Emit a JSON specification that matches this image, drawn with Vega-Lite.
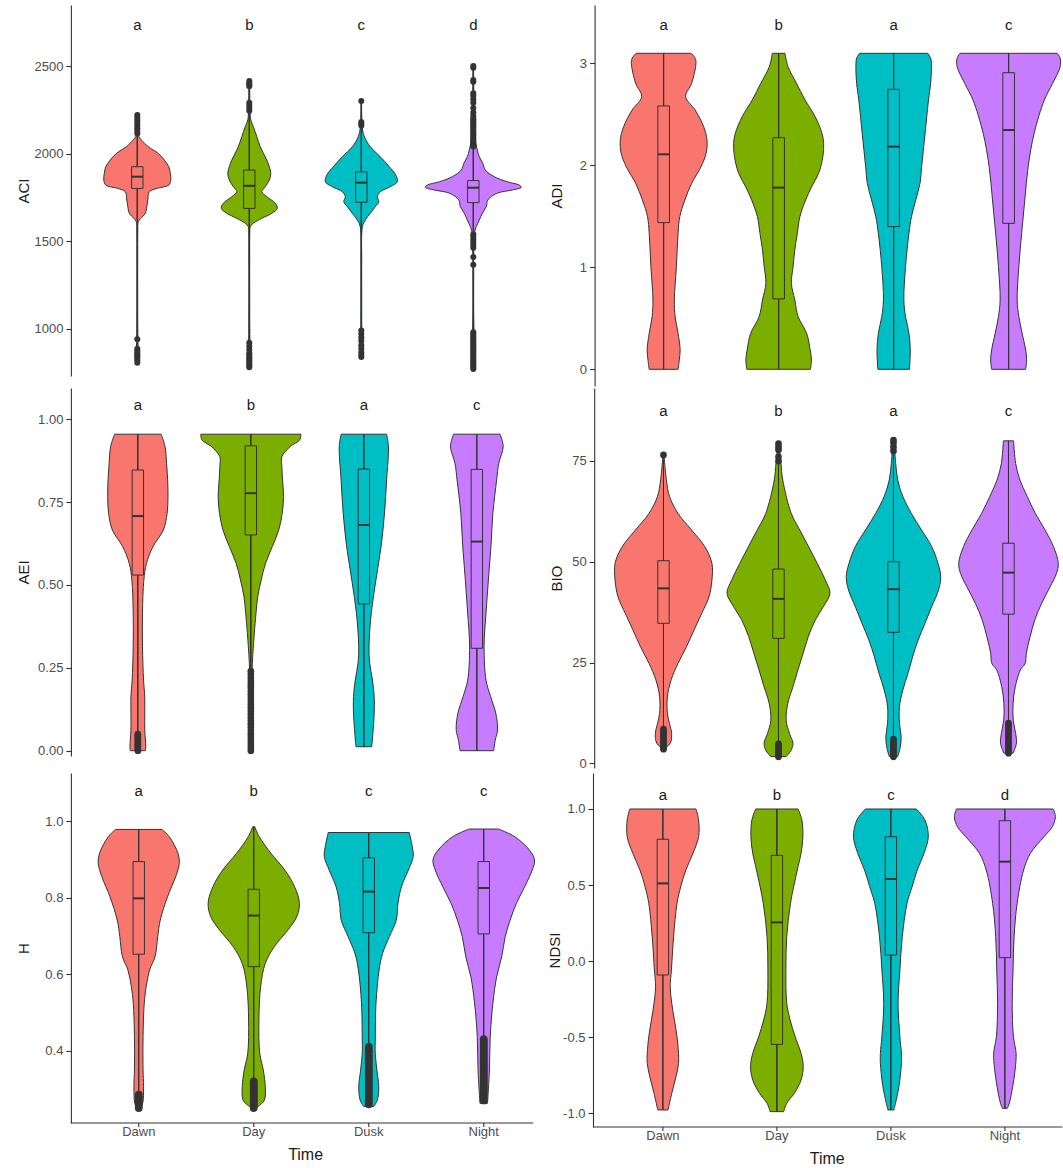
{
"$schema":"https://vega.github.io/schema/vega-lite/v6.json",
"padding":{"left":16.6,"top":5,"right":0,"bottom":0},
"autosize":{"type":"pad"},
"background":"white",
"datasets":{"d":[
{"p":"ACI","t":"Dawn","k":"v","y":804,"d":0.6},{"p":"ACI","t":"Dawn","k":"v","y":850,"d":1.2},{"p":"ACI","t":"Dawn","k":"v","y":900,"d":1.5},{"p":"ACI","t":"Dawn","k":"v","y":1000,"d":1},{"p":"ACI","t":"Dawn","k":"v","y":1200,"d":0.8},{"p":"ACI","t":"Dawn","k":"v","y":1400,"d":0.8},{"p":"ACI","t":"Dawn","k":"v","y":1550,"d":1},{"p":"ACI","t":"Dawn","k":"v","y":1611,"d":2},{"p":"ACI","t":"Dawn","k":"v","y":1630,"d":7},{"p":"ACI","t":"Dawn","k":"v","y":1659,"d":16},{"p":"ACI","t":"Dawn","k":"v","y":1697,"d":19},{"p":"ACI","t":"Dawn","k":"v","y":1735,"d":21},{"p":"ACI","t":"Dawn","k":"v","y":1782,"d":24},{"p":"ACI","t":"Dawn","k":"v","y":1802,"d":40},{"p":"ACI","t":"Dawn","k":"v","y":1820,"d":63},{"p":"ACI","t":"Dawn","k":"v","y":1849,"d":67},{"p":"ACI","t":"Dawn","k":"v","y":1887,"d":66},{"p":"ACI","t":"Dawn","k":"v","y":1925,"d":63},{"p":"ACI","t":"Dawn","k":"v","y":1963,"d":54},{"p":"ACI","t":"Dawn","k":"v","y":2001,"d":42},{"p":"ACI","t":"Dawn","k":"v","y":2039,"d":22},{"p":"ACI","t":"Dawn","k":"v","y":2078,"d":8},{"p":"ACI","t":"Dawn","k":"v","y":2100,"d":2.5},{"p":"ACI","t":"Dawn","k":"v","y":2150,"d":1.5},{"p":"ACI","t":"Dawn","k":"v","y":2220,"d":0.6},
{"p":"ACI","t":"Day","k":"v","y":780,"d":0.6},{"p":"ACI","t":"Day","k":"v","y":820,"d":1.5},{"p":"ACI","t":"Day","k":"v","y":880,"d":1.5},{"p":"ACI","t":"Day","k":"v","y":1000,"d":1},{"p":"ACI","t":"Day","k":"v","y":1200,"d":0.8},{"p":"ACI","t":"Day","k":"v","y":1400,"d":0.8},{"p":"ACI","t":"Day","k":"v","y":1550,"d":1},{"p":"ACI","t":"Day","k":"v","y":1583,"d":2},{"p":"ACI","t":"Day","k":"v","y":1602,"d":8},{"p":"ACI","t":"Day","k":"v","y":1630,"d":25},{"p":"ACI","t":"Day","k":"v","y":1659,"d":45},{"p":"ACI","t":"Day","k":"v","y":1687,"d":56},{"p":"ACI","t":"Day","k":"v","y":1716,"d":52},{"p":"ACI","t":"Day","k":"v","y":1754,"d":35},{"p":"ACI","t":"Day","k":"v","y":1782,"d":25},{"p":"ACI","t":"Day","k":"v","y":1811,"d":32},{"p":"ACI","t":"Day","k":"v","y":1849,"d":40},{"p":"ACI","t":"Day","k":"v","y":1887,"d":43},{"p":"ACI","t":"Day","k":"v","y":1925,"d":40},{"p":"ACI","t":"Day","k":"v","y":1963,"d":35},{"p":"ACI","t":"Day","k":"v","y":2039,"d":22},{"p":"ACI","t":"Day","k":"v","y":2097,"d":15},{"p":"ACI","t":"Day","k":"v","y":2154,"d":8},{"p":"ACI","t":"Day","k":"v","y":2192,"d":3},{"p":"ACI","t":"Day","k":"v","y":2250,"d":1.5},{"p":"ACI","t":"Day","k":"v","y":2410,"d":0.6},
{"p":"ACI","t":"Dusk","k":"v","y":835,"d":0.6},{"p":"ACI","t":"Dusk","k":"v","y":900,"d":1.5},{"p":"ACI","t":"Dusk","k":"v","y":1000,"d":1},{"p":"ACI","t":"Dusk","k":"v","y":1200,"d":0.8},{"p":"ACI","t":"Dusk","k":"v","y":1400,"d":0.8},{"p":"ACI","t":"Dusk","k":"v","y":1550,"d":1},{"p":"ACI","t":"Dusk","k":"v","y":1592,"d":3},{"p":"ACI","t":"Dusk","k":"v","y":1621,"d":8},{"p":"ACI","t":"Dusk","k":"v","y":1659,"d":18},{"p":"ACI","t":"Dusk","k":"v","y":1697,"d":28},{"p":"ACI","t":"Dusk","k":"v","y":1725,"d":35},{"p":"ACI","t":"Dusk","k":"v","y":1754,"d":32},{"p":"ACI","t":"Dusk","k":"v","y":1782,"d":38},{"p":"ACI","t":"Dusk","k":"v","y":1811,"d":58},{"p":"ACI","t":"Dusk","k":"v","y":1839,"d":72},{"p":"ACI","t":"Dusk","k":"v","y":1877,"d":69},{"p":"ACI","t":"Dusk","k":"v","y":1925,"d":56},{"p":"ACI","t":"Dusk","k":"v","y":1982,"d":38},{"p":"ACI","t":"Dusk","k":"v","y":2039,"d":18},{"p":"ACI","t":"Dusk","k":"v","y":2097,"d":6},{"p":"ACI","t":"Dusk","k":"v","y":2150,"d":2},{"p":"ACI","t":"Dusk","k":"v","y":2300,"d":0.6},
{"p":"ACI","t":"Night","k":"v","y":770,"d":0.6},{"p":"ACI","t":"Night","k":"v","y":850,"d":1.5},{"p":"ACI","t":"Night","k":"v","y":950,"d":1.5},{"p":"ACI","t":"Night","k":"v","y":1100,"d":0.8},{"p":"ACI","t":"Night","k":"v","y":1300,"d":0.8},{"p":"ACI","t":"Night","k":"v","y":1450,"d":1},{"p":"ACI","t":"Night","k":"v","y":1554,"d":3},{"p":"ACI","t":"Night","k":"v","y":1583,"d":6},{"p":"ACI","t":"Night","k":"v","y":1621,"d":12},{"p":"ACI","t":"Night","k":"v","y":1659,"d":18},{"p":"ACI","t":"Night","k":"v","y":1697,"d":26},{"p":"ACI","t":"Night","k":"v","y":1735,"d":29},{"p":"ACI","t":"Night","k":"v","y":1773,"d":47},{"p":"ACI","t":"Night","k":"v","y":1792,"d":78},{"p":"ACI","t":"Night","k":"v","y":1807,"d":96},{"p":"ACI","t":"Night","k":"v","y":1820,"d":92},{"p":"ACI","t":"Night","k":"v","y":1839,"d":68},{"p":"ACI","t":"Night","k":"v","y":1868,"d":42},{"p":"ACI","t":"Night","k":"v","y":1906,"d":24},{"p":"ACI","t":"Night","k":"v","y":1944,"d":19},{"p":"ACI","t":"Night","k":"v","y":1982,"d":12},{"p":"ACI","t":"Night","k":"v","y":2020,"d":8},{"p":"ACI","t":"Night","k":"v","y":2100,"d":3},{"p":"ACI","t":"Night","k":"v","y":2250,"d":1.5},{"p":"ACI","t":"Night","k":"v","y":2500,"d":0.6},
{"p":"ACI","t":"Dawn","k":"b","q1":1801,"med":1868,"q3":1925,"lo":1615,"hi":2105,"lab":"a"},
{"p":"ACI","t":"Day","k":"b","q1":1687,"med":1816,"q3":1906,"lo":1360,"hi":2235,"lab":"b"},
{"p":"ACI","t":"Dusk","k":"b","q1":1722,"med":1834,"q3":1896,"lo":1465,"hi":2150,"lab":"c"},
{"p":"ACI","t":"Night","k":"b","q1":1720,"med":1805,"q3":1846,"lo":1532,"hi":2030,"lab":"d"},
{"p":"ACI","t":"Dawn","k":"o","y":2115},{"p":"ACI","t":"Dawn","k":"o","y":2130},{"p":"ACI","t":"Dawn","k":"o","y":2145},{"p":"ACI","t":"Dawn","k":"o","y":2160},{"p":"ACI","t":"Dawn","k":"o","y":2175},{"p":"ACI","t":"Dawn","k":"o","y":2190},{"p":"ACI","t":"Dawn","k":"o","y":2205},{"p":"ACI","t":"Dawn","k":"o","y":2220},{"p":"ACI","t":"Dawn","k":"o","y":940},{"p":"ACI","t":"Dawn","k":"o","y":885},{"p":"ACI","t":"Dawn","k":"o","y":872},{"p":"ACI","t":"Dawn","k":"o","y":862},{"p":"ACI","t":"Dawn","k":"o","y":852},{"p":"ACI","t":"Dawn","k":"o","y":842},{"p":"ACI","t":"Dawn","k":"o","y":832},{"p":"ACI","t":"Dawn","k":"o","y":820},{"p":"ACI","t":"Dawn","k":"o","y":806},
{"p":"ACI","t":"Day","k":"o","y":2245},{"p":"ACI","t":"Day","k":"o","y":2260},{"p":"ACI","t":"Day","k":"o","y":2275},{"p":"ACI","t":"Day","k":"o","y":2290},{"p":"ACI","t":"Day","k":"o","y":2385},{"p":"ACI","t":"Day","k":"o","y":2395},{"p":"ACI","t":"Day","k":"o","y":2405},{"p":"ACI","t":"Day","k":"o","y":2415},{"p":"ACI","t":"Day","k":"o","y":920},{"p":"ACI","t":"Day","k":"o","y":900},{"p":"ACI","t":"Day","k":"o","y":880},{"p":"ACI","t":"Day","k":"o","y":860},{"p":"ACI","t":"Day","k":"o","y":850},{"p":"ACI","t":"Day","k":"o","y":840},{"p":"ACI","t":"Day","k":"o","y":830},{"p":"ACI","t":"Day","k":"o","y":820},{"p":"ACI","t":"Day","k":"o","y":810},{"p":"ACI","t":"Day","k":"o","y":800},{"p":"ACI","t":"Day","k":"o","y":790},{"p":"ACI","t":"Day","k":"o","y":780},
{"p":"ACI","t":"Dusk","k":"o","y":2160},{"p":"ACI","t":"Dusk","k":"o","y":2170},{"p":"ACI","t":"Dusk","k":"o","y":2180},{"p":"ACI","t":"Dusk","k":"o","y":2300},{"p":"ACI","t":"Dusk","k":"o","y":990},{"p":"ACI","t":"Dusk","k":"o","y":970},{"p":"ACI","t":"Dusk","k":"o","y":950},{"p":"ACI","t":"Dusk","k":"o","y":930},{"p":"ACI","t":"Dusk","k":"o","y":905},{"p":"ACI","t":"Dusk","k":"o","y":885},{"p":"ACI","t":"Dusk","k":"o","y":865},{"p":"ACI","t":"Dusk","k":"o","y":850},{"p":"ACI","t":"Dusk","k":"o","y":838},
{"p":"ACI","t":"Night","k":"o","y":2040},{"p":"ACI","t":"Night","k":"o","y":2050},{"p":"ACI","t":"Night","k":"o","y":2060},{"p":"ACI","t":"Night","k":"o","y":2070},{"p":"ACI","t":"Night","k":"o","y":2080},{"p":"ACI","t":"Night","k":"o","y":2090},{"p":"ACI","t":"Night","k":"o","y":2100},{"p":"ACI","t":"Night","k":"o","y":2110},{"p":"ACI","t":"Night","k":"o","y":2120},{"p":"ACI","t":"Night","k":"o","y":2130},{"p":"ACI","t":"Night","k":"o","y":2140},{"p":"ACI","t":"Night","k":"o","y":2150},{"p":"ACI","t":"Night","k":"o","y":2160},{"p":"ACI","t":"Night","k":"o","y":2170},{"p":"ACI","t":"Night","k":"o","y":2180},{"p":"ACI","t":"Night","k":"o","y":2190},{"p":"ACI","t":"Night","k":"o","y":2200},{"p":"ACI","t":"Night","k":"o","y":2215},{"p":"ACI","t":"Night","k":"o","y":2235},{"p":"ACI","t":"Night","k":"o","y":2260},{"p":"ACI","t":"Night","k":"o","y":2290},{"p":"ACI","t":"Night","k":"o","y":2310},{"p":"ACI","t":"Night","k":"o","y":2330},{"p":"ACI","t":"Night","k":"o","y":2345},{"p":"ACI","t":"Night","k":"o","y":2410},{"p":"ACI","t":"Night","k":"o","y":2420},{"p":"ACI","t":"Night","k":"o","y":2490},{"p":"ACI","t":"Night","k":"o","y":2500},{"p":"ACI","t":"Night","k":"o","y":1540},{"p":"ACI","t":"Night","k":"o","y":1525},{"p":"ACI","t":"Night","k":"o","y":1510},{"p":"ACI","t":"Night","k":"o","y":1495},{"p":"ACI","t":"Night","k":"o","y":1480},{"p":"ACI","t":"Night","k":"o","y":1462},{"p":"ACI","t":"Night","k":"o","y":1410},{"p":"ACI","t":"Night","k":"o","y":1365},{"p":"ACI","t":"Night","k":"o","y":770},{"p":"ACI","t":"Night","k":"o","y":780},{"p":"ACI","t":"Night","k":"o","y":790},{"p":"ACI","t":"Night","k":"o","y":800},{"p":"ACI","t":"Night","k":"o","y":810},{"p":"ACI","t":"Night","k":"o","y":820},{"p":"ACI","t":"Night","k":"o","y":830},{"p":"ACI","t":"Night","k":"o","y":840},{"p":"ACI","t":"Night","k":"o","y":850},{"p":"ACI","t":"Night","k":"o","y":860},{"p":"ACI","t":"Night","k":"o","y":870},{"p":"ACI","t":"Night","k":"o","y":880},{"p":"ACI","t":"Night","k":"o","y":890},{"p":"ACI","t":"Night","k":"o","y":900},{"p":"ACI","t":"Night","k":"o","y":910},{"p":"ACI","t":"Night","k":"o","y":920},{"p":"ACI","t":"Night","k":"o","y":930},{"p":"ACI","t":"Night","k":"o","y":940},{"p":"ACI","t":"Night","k":"o","y":950},{"p":"ACI","t":"Night","k":"o","y":960},{"p":"ACI","t":"Night","k":"o","y":970},{"p":"ACI","t":"Night","k":"o","y":980},

{"p":"ADI","t":"Dawn","k":"v","y":0,"d":29},{"p":"ADI","t":"Dawn","k":"v","y":0.092,"d":31.3},{"p":"ADI","t":"Dawn","k":"v","y":0.19,"d":33},{"p":"ADI","t":"Dawn","k":"v","y":0.353,"d":28.9},{"p":"ADI","t":"Dawn","k":"v","y":0.516,"d":23},{"p":"ADI","t":"Dawn","k":"v","y":0.68,"d":21.4},{"p":"ADI","t":"Dawn","k":"v","y":1.007,"d":25.5},{"p":"ADI","t":"Dawn","k":"v","y":1.333,"d":28.9},{"p":"ADI","t":"Dawn","k":"v","y":1.497,"d":32.3},{"p":"ADI","t":"Dawn","k":"v","y":1.66,"d":42.5},{"p":"ADI","t":"Dawn","k":"v","y":1.824,"d":56},{"p":"ADI","t":"Dawn","k":"v","y":1.987,"d":74.8},{"p":"ADI","t":"Dawn","k":"v","y":2.118,"d":85},{"p":"ADI","t":"Dawn","k":"v","y":2.248,"d":86.7},{"p":"ADI","t":"Dawn","k":"v","y":2.379,"d":80},{"p":"ADI","t":"Dawn","k":"v","y":2.542,"d":63},{"p":"ADI","t":"Dawn","k":"v","y":2.673,"d":44},{"p":"ADI","t":"Dawn","k":"v","y":2.804,"d":56},{"p":"ADI","t":"Dawn","k":"v","y":3.0,"d":64.6},{"p":"ADI","t":"Dawn","k":"v","y":3.05,"d":63},{"p":"ADI","t":"Dawn","k":"v","y":3.098,"d":55},
{"p":"ADI","t":"Day","k":"v","y":0,"d":63.6},{"p":"ADI","t":"Day","k":"v","y":0.092,"d":65.6},{"p":"ADI","t":"Day","k":"v","y":0.19,"d":63},{"p":"ADI","t":"Day","k":"v","y":0.353,"d":56},{"p":"ADI","t":"Day","k":"v","y":0.516,"d":39},{"p":"ADI","t":"Day","k":"v","y":0.68,"d":32.3},{"p":"ADI","t":"Day","k":"v","y":0.843,"d":25.5},{"p":"ADI","t":"Day","k":"v","y":1.007,"d":28.9},{"p":"ADI","t":"Day","k":"v","y":1.17,"d":32.3},{"p":"ADI","t":"Day","k":"v","y":1.333,"d":37.4},{"p":"ADI","t":"Day","k":"v","y":1.497,"d":42.5},{"p":"ADI","t":"Day","k":"v","y":1.66,"d":54},{"p":"ADI","t":"Day","k":"v","y":1.79,"d":66},{"p":"ADI","t":"Day","k":"v","y":1.922,"d":80},{"p":"ADI","t":"Day","k":"v","y":2.085,"d":88.4},{"p":"ADI","t":"Day","k":"v","y":2.216,"d":90},{"p":"ADI","t":"Day","k":"v","y":2.314,"d":86.7},{"p":"ADI","t":"Day","k":"v","y":2.477,"d":73},{"p":"ADI","t":"Day","k":"v","y":2.641,"d":52.7},{"p":"ADI","t":"Day","k":"v","y":2.804,"d":35.7},{"p":"ADI","t":"Day","k":"v","y":2.967,"d":18.7},{"p":"ADI","t":"Day","k":"v","y":3.098,"d":12.6},
{"p":"ADI","t":"Dusk","k":"v","y":0,"d":31.6},{"p":"ADI","t":"Dusk","k":"v","y":0.19,"d":33.3},{"p":"ADI","t":"Dusk","k":"v","y":0.353,"d":30.6},{"p":"ADI","t":"Dusk","k":"v","y":0.516,"d":23.8},{"p":"ADI","t":"Dusk","k":"v","y":0.68,"d":20.4},{"p":"ADI","t":"Dusk","k":"v","y":1.007,"d":23.8},{"p":"ADI","t":"Dusk","k":"v","y":1.333,"d":30.6},{"p":"ADI","t":"Dusk","k":"v","y":1.497,"d":35.7},{"p":"ADI","t":"Dusk","k":"v","y":1.66,"d":44.2},{"p":"ADI","t":"Dusk","k":"v","y":1.824,"d":52.7},{"p":"ADI","t":"Dusk","k":"v","y":1.987,"d":56},{"p":"ADI","t":"Dusk","k":"v","y":2.314,"d":62.9},{"p":"ADI","t":"Dusk","k":"v","y":2.641,"d":69.7},{"p":"ADI","t":"Dusk","k":"v","y":2.804,"d":74},{"p":"ADI","t":"Dusk","k":"v","y":2.967,"d":75.5},{"p":"ADI","t":"Dusk","k":"v","y":3.05,"d":74},{"p":"ADI","t":"Dusk","k":"v","y":3.098,"d":68},
{"p":"ADI","t":"Night","k":"v","y":0,"d":34},{"p":"ADI","t":"Night","k":"v","y":0.092,"d":36},{"p":"ADI","t":"Night","k":"v","y":0.19,"d":34},{"p":"ADI","t":"Night","k":"v","y":0.353,"d":27},{"p":"ADI","t":"Night","k":"v","y":0.516,"d":20.4},{"p":"ADI","t":"Night","k":"v","y":0.68,"d":17},{"p":"ADI","t":"Night","k":"v","y":1.007,"d":20.4},{"p":"ADI","t":"Night","k":"v","y":1.333,"d":26},{"p":"ADI","t":"Night","k":"v","y":1.66,"d":32.3},{"p":"ADI","t":"Night","k":"v","y":1.987,"d":39},{"p":"ADI","t":"Night","k":"v","y":2.314,"d":51},{"p":"ADI","t":"Night","k":"v","y":2.641,"d":71.4},{"p":"ADI","t":"Night","k":"v","y":2.804,"d":88},{"p":"ADI","t":"Night","k":"v","y":2.967,"d":103},{"p":"ADI","t":"Night","k":"v","y":3.05,"d":103},{"p":"ADI","t":"Night","k":"v","y":3.098,"d":97},
{"p":"ADI","t":"Dawn","k":"b","q1":1.438,"med":2.108,"q3":2.582,"lo":0,"hi":3.098,"lab":"a"},
{"p":"ADI","t":"Day","k":"b","q1":0.69,"med":1.781,"q3":2.271,"lo":0,"hi":3.098,"lab":"b"},
{"p":"ADI","t":"Dusk","k":"b","q1":1.399,"med":2.183,"q3":2.745,"lo":0,"hi":3.098,"lab":"a"},
{"p":"ADI","t":"Night","k":"b","q1":1.431,"med":2.346,"q3":2.908,"lo":0,"hi":3.098,"lab":"c"},

{"p":"AEI","t":"Dawn","k":"v","y":0,"d":15},{"p":"AEI","t":"Dawn","k":"v","y":0.012,"d":15.8},{"p":"AEI","t":"Dawn","k":"v","y":0.063,"d":13.8},{"p":"AEI","t":"Dawn","k":"v","y":0.113,"d":13.8},{"p":"AEI","t":"Dawn","k":"v","y":0.163,"d":13.8},{"p":"AEI","t":"Dawn","k":"v","y":0.213,"d":11.4},{"p":"AEI","t":"Dawn","k":"v","y":0.314,"d":9.3},{"p":"AEI","t":"Dawn","k":"v","y":0.415,"d":9.3},{"p":"AEI","t":"Dawn","k":"v","y":0.515,"d":12},{"p":"AEI","t":"Dawn","k":"v","y":0.565,"d":17.2},{"p":"AEI","t":"Dawn","k":"v","y":0.616,"d":30.3},{"p":"AEI","t":"Dawn","k":"v","y":0.666,"d":51},{"p":"AEI","t":"Dawn","k":"v","y":0.716,"d":58.5},{"p":"AEI","t":"Dawn","k":"v","y":0.767,"d":60.3},{"p":"AEI","t":"Dawn","k":"v","y":0.817,"d":59.6},{"p":"AEI","t":"Dawn","k":"v","y":0.867,"d":57.5},{"p":"AEI","t":"Dawn","k":"v","y":0.918,"d":54.4},{"p":"AEI","t":"Dawn","k":"v","y":0.955,"d":46.5},
{"p":"AEI","t":"Day","k":"v","y":0,"d":1.5},{"p":"AEI","t":"Day","k":"v","y":0.1,"d":1.5},{"p":"AEI","t":"Day","k":"v","y":0.2,"d":2},{"p":"AEI","t":"Day","k":"v","y":0.264,"d":3},{"p":"AEI","t":"Day","k":"v","y":0.314,"d":5},{"p":"AEI","t":"Day","k":"v","y":0.354,"d":6.9},{"p":"AEI","t":"Day","k":"v","y":0.415,"d":10.3},{"p":"AEI","t":"Day","k":"v","y":0.465,"d":13.8},{"p":"AEI","t":"Day","k":"v","y":0.515,"d":20.7},{"p":"AEI","t":"Day","k":"v","y":0.565,"d":29.3},{"p":"AEI","t":"Day","k":"v","y":0.616,"d":43},{"p":"AEI","t":"Day","k":"v","y":0.666,"d":55.8},{"p":"AEI","t":"Day","k":"v","y":0.716,"d":62.7},{"p":"AEI","t":"Day","k":"v","y":0.767,"d":65.4},{"p":"AEI","t":"Day","k":"v","y":0.817,"d":63.4},{"p":"AEI","t":"Day","k":"v","y":0.857,"d":62},{"p":"AEI","t":"Day","k":"v","y":0.887,"d":62},{"p":"AEI","t":"Day","k":"v","y":0.918,"d":79},{"p":"AEI","t":"Day","k":"v","y":0.938,"d":98},{"p":"AEI","t":"Day","k":"v","y":0.955,"d":100},
{"p":"AEI","t":"Dusk","k":"v","y":0.012,"d":15.8},{"p":"AEI","t":"Dusk","k":"v","y":0.032,"d":17},{"p":"AEI","t":"Dusk","k":"v","y":0.063,"d":18.6},{"p":"AEI","t":"Dusk","k":"v","y":0.113,"d":20.7},{"p":"AEI","t":"Dusk","k":"v","y":0.163,"d":20.7},{"p":"AEI","t":"Dusk","k":"v","y":0.213,"d":17.2},{"p":"AEI","t":"Dusk","k":"v","y":0.264,"d":11.7},{"p":"AEI","t":"Dusk","k":"v","y":0.314,"d":10.3},{"p":"AEI","t":"Dusk","k":"v","y":0.415,"d":14.8},{"p":"AEI","t":"Dusk","k":"v","y":0.515,"d":24.1},{"p":"AEI","t":"Dusk","k":"v","y":0.616,"d":34.4},{"p":"AEI","t":"Dusk","k":"v","y":0.716,"d":41.3},{"p":"AEI","t":"Dusk","k":"v","y":0.817,"d":45.5},{"p":"AEI","t":"Dusk","k":"v","y":0.918,"d":49.2},{"p":"AEI","t":"Dusk","k":"v","y":0.955,"d":45.5},
{"p":"AEI","t":"Night","k":"v","y":0,"d":33.7},{"p":"AEI","t":"Night","k":"v","y":0.032,"d":36.8},{"p":"AEI","t":"Night","k":"v","y":0.063,"d":41.3},{"p":"AEI","t":"Night","k":"v","y":0.113,"d":37.9},{"p":"AEI","t":"Night","k":"v","y":0.163,"d":27.6},{"p":"AEI","t":"Night","k":"v","y":0.213,"d":18.3},{"p":"AEI","t":"Night","k":"v","y":0.314,"d":14.5},{"p":"AEI","t":"Night","k":"v","y":0.415,"d":18.3},{"p":"AEI","t":"Night","k":"v","y":0.515,"d":23},{"p":"AEI","t":"Night","k":"v","y":0.616,"d":28.2},{"p":"AEI","t":"Night","k":"v","y":0.716,"d":32},{"p":"AEI","t":"Night","k":"v","y":0.817,"d":39.6},{"p":"AEI","t":"Night","k":"v","y":0.867,"d":43.7},{"p":"AEI","t":"Night","k":"v","y":0.918,"d":52.7},{"p":"AEI","t":"Night","k":"v","y":0.955,"d":46.5},
{"p":"AEI","t":"Dawn","k":"b","q1":0.53,"med":0.708,"q3":0.847,"lo":0.055,"hi":0.955,"lab":"a"},
{"p":"AEI","t":"Day","k":"b","q1":0.651,"med":0.777,"q3":0.92,"lo":0.25,"hi":0.955,"lab":"b"},
{"p":"AEI","t":"Dusk","k":"b","q1":0.443,"med":0.681,"q3":0.85,"lo":0.012,"hi":0.955,"lab":"a"},
{"p":"AEI","t":"Night","k":"b","q1":0.309,"med":0.631,"q3":0.849,"lo":0,"hi":0.955,"lab":"c"},
{"p":"AEI","t":"Dawn","k":"o","y":0},{"p":"AEI","t":"Dawn","k":"o","y":0.005},{"p":"AEI","t":"Dawn","k":"o","y":0.01},{"p":"AEI","t":"Dawn","k":"o","y":0.015},{"p":"AEI","t":"Dawn","k":"o","y":0.02},{"p":"AEI","t":"Dawn","k":"o","y":0.025},{"p":"AEI","t":"Dawn","k":"o","y":0.03},{"p":"AEI","t":"Dawn","k":"o","y":0.035},{"p":"AEI","t":"Dawn","k":"o","y":0.04},{"p":"AEI","t":"Dawn","k":"o","y":0.045},{"p":"AEI","t":"Dawn","k":"o","y":0.05},
{"p":"AEI","t":"Day","k":"o","y":0},{"p":"AEI","t":"Day","k":"o","y":0.01},{"p":"AEI","t":"Day","k":"o","y":0.02},{"p":"AEI","t":"Day","k":"o","y":0.03},{"p":"AEI","t":"Day","k":"o","y":0.04},{"p":"AEI","t":"Day","k":"o","y":0.05},{"p":"AEI","t":"Day","k":"o","y":0.06},{"p":"AEI","t":"Day","k":"o","y":0.07},{"p":"AEI","t":"Day","k":"o","y":0.08},{"p":"AEI","t":"Day","k":"o","y":0.09},{"p":"AEI","t":"Day","k":"o","y":0.1},{"p":"AEI","t":"Day","k":"o","y":0.11},{"p":"AEI","t":"Day","k":"o","y":0.12},{"p":"AEI","t":"Day","k":"o","y":0.13},{"p":"AEI","t":"Day","k":"o","y":0.14},{"p":"AEI","t":"Day","k":"o","y":0.15},{"p":"AEI","t":"Day","k":"o","y":0.16},{"p":"AEI","t":"Day","k":"o","y":0.17},{"p":"AEI","t":"Day","k":"o","y":0.18},{"p":"AEI","t":"Day","k":"o","y":0.19},{"p":"AEI","t":"Day","k":"o","y":0.2},{"p":"AEI","t":"Day","k":"o","y":0.21},{"p":"AEI","t":"Day","k":"o","y":0.22},{"p":"AEI","t":"Day","k":"o","y":0.23},{"p":"AEI","t":"Day","k":"o","y":0.24},

{"p":"BIO","t":"Dawn","k":"v","y":3.7,"d":2},{"p":"BIO","t":"Dawn","k":"v","y":5.0,"d":13.6},{"p":"BIO","t":"Dawn","k":"v","y":7.4,"d":16.3},{"p":"BIO","t":"Dawn","k":"v","y":9.9,"d":11.9},{"p":"BIO","t":"Dawn","k":"v","y":12.4,"d":7.8},{"p":"BIO","t":"Dawn","k":"v","y":16.5,"d":7.8},{"p":"BIO","t":"Dawn","k":"v","y":20.7,"d":15.3},{"p":"BIO","t":"Dawn","k":"v","y":24.8,"d":29},{"p":"BIO","t":"Dawn","k":"v","y":28.9,"d":45.9},{"p":"BIO","t":"Dawn","k":"v","y":33.1,"d":61.2},{"p":"BIO","t":"Dawn","k":"v","y":37.2,"d":76.5},{"p":"BIO","t":"Dawn","k":"v","y":41.3,"d":91},{"p":"BIO","t":"Dawn","k":"v","y":45.5,"d":96.9},{"p":"BIO","t":"Dawn","k":"v","y":49.6,"d":96.9},{"p":"BIO","t":"Dawn","k":"v","y":53.75,"d":82.6},{"p":"BIO","t":"Dawn","k":"v","y":57.9,"d":56},{"p":"BIO","t":"Dawn","k":"v","y":62.0,"d":29},{"p":"BIO","t":"Dawn","k":"v","y":66.2,"d":12},{"p":"BIO","t":"Dawn","k":"v","y":70.3,"d":5.8},{"p":"BIO","t":"Dawn","k":"v","y":76.5,"d":1},
{"p":"BIO","t":"Day","k":"v","y":1.65,"d":15.3},{"p":"BIO","t":"Day","k":"v","y":3.3,"d":25.5},{"p":"BIO","t":"Day","k":"v","y":5.0,"d":28.9},{"p":"BIO","t":"Day","k":"v","y":7.4,"d":22},{"p":"BIO","t":"Day","k":"v","y":10.7,"d":15.3},{"p":"BIO","t":"Day","k":"v","y":14.9,"d":18.7},{"p":"BIO","t":"Day","k":"v","y":19.0,"d":28.9},{"p":"BIO","t":"Day","k":"v","y":23.2,"d":39},{"p":"BIO","t":"Day","k":"v","y":27.3,"d":49.3},{"p":"BIO","t":"Day","k":"v","y":31.4,"d":59.5},{"p":"BIO","t":"Day","k":"v","y":35.6,"d":73.8},{"p":"BIO","t":"Day","k":"v","y":38.9,"d":90},{"p":"BIO","t":"Day","k":"v","y":42.2,"d":103},{"p":"BIO","t":"Day","k":"v","y":45.5,"d":93.5},{"p":"BIO","t":"Day","k":"v","y":49.6,"d":77.5},{"p":"BIO","t":"Day","k":"v","y":53.75,"d":60.2},{"p":"BIO","t":"Day","k":"v","y":57.9,"d":42.5},{"p":"BIO","t":"Day","k":"v","y":62.0,"d":25.5},{"p":"BIO","t":"Day","k":"v","y":70.3,"d":8.5},{"p":"BIO","t":"Day","k":"v","y":74.4,"d":5},{"p":"BIO","t":"Day","k":"v","y":79.4,"d":1},
{"p":"BIO","t":"Dusk","k":"v","y":1.65,"d":8.5},{"p":"BIO","t":"Dusk","k":"v","y":4.1,"d":13.6},{"p":"BIO","t":"Dusk","k":"v","y":6.6,"d":15.3},{"p":"BIO","t":"Dusk","k":"v","y":9.9,"d":11.9},{"p":"BIO","t":"Dusk","k":"v","y":14.1,"d":11.9},{"p":"BIO","t":"Dusk","k":"v","y":18.2,"d":18.7},{"p":"BIO","t":"Dusk","k":"v","y":22.3,"d":28.9},{"p":"BIO","t":"Dusk","k":"v","y":26.5,"d":38.4},{"p":"BIO","t":"Dusk","k":"v","y":30.6,"d":49.3},{"p":"BIO","t":"Dusk","k":"v","y":34.7,"d":62.9},{"p":"BIO","t":"Dusk","k":"v","y":38.9,"d":76.5},{"p":"BIO","t":"Dusk","k":"v","y":43.0,"d":90},{"p":"BIO","t":"Dusk","k":"v","y":46.3,"d":94.5},{"p":"BIO","t":"Dusk","k":"v","y":49.6,"d":89},{"p":"BIO","t":"Dusk","k":"v","y":53.75,"d":76.5},{"p":"BIO","t":"Dusk","k":"v","y":57.9,"d":56},{"p":"BIO","t":"Dusk","k":"v","y":62.0,"d":35.7},{"p":"BIO","t":"Dusk","k":"v","y":66.2,"d":18.7},{"p":"BIO","t":"Dusk","k":"v","y":70.3,"d":8.5},{"p":"BIO","t":"Dusk","k":"v","y":74.4,"d":4.4},{"p":"BIO","t":"Dusk","k":"v","y":80.2,"d":1},
{"p":"BIO","t":"Night","k":"v","y":2.5,"d":9.2},{"p":"BIO","t":"Night","k":"v","y":5.0,"d":16},{"p":"BIO","t":"Night","k":"v","y":7.4,"d":14.3},{"p":"BIO","t":"Night","k":"v","y":10.7,"d":9.5},{"p":"BIO","t":"Night","k":"v","y":14.9,"d":9.2},{"p":"BIO","t":"Night","k":"v","y":19.0,"d":13.6},{"p":"BIO","t":"Night","k":"v","y":23.2,"d":23.8},{"p":"BIO","t":"Night","k":"v","y":24.8,"d":33.3},{"p":"BIO","t":"Night","k":"v","y":27.3,"d":35.7},{"p":"BIO","t":"Night","k":"v","y":31.4,"d":43.2},{"p":"BIO","t":"Night","k":"v","y":35.6,"d":52.7},{"p":"BIO","t":"Night","k":"v","y":39.7,"d":66.3},{"p":"BIO","t":"Night","k":"v","y":43.8,"d":83.3},{"p":"BIO","t":"Night","k":"v","y":47.1,"d":95.9},{"p":"BIO","t":"Night","k":"v","y":49.6,"d":99.6},{"p":"BIO","t":"Night","k":"v","y":53.75,"d":90},{"p":"BIO","t":"Night","k":"v","y":57.9,"d":73},{"p":"BIO","t":"Night","k":"v","y":62.0,"d":53.7},{"p":"BIO","t":"Night","k":"v","y":66.2,"d":37.4},{"p":"BIO","t":"Night","k":"v","y":70.3,"d":22.8},{"p":"BIO","t":"Night","k":"v","y":74.4,"d":14.3},{"p":"BIO","t":"Night","k":"v","y":80,"d":10.2},
{"p":"BIO","t":"Dawn","k":"b","q1":34.73,"med":43.4,"q3":50.27,"lo":11.4,"hi":73.5,"lab":"a"},
{"p":"BIO","t":"Day","k":"b","q1":31.0,"med":40.8,"q3":48.2,"lo":5.2,"hi":74,"lab":"b"},
{"p":"BIO","t":"Dusk","k":"b","q1":32.5,"med":43.2,"q3":50.0,"lo":6.5,"hi":76,"lab":"a"},
{"p":"BIO","t":"Night","k":"b","q1":37.0,"med":47.3,"q3":54.6,"lo":10.6,"hi":80,"lab":"c"},
{"p":"BIO","t":"Dawn","k":"o","y":76.5},{"p":"BIO","t":"Dawn","k":"o","y":3.5},{"p":"BIO","t":"Dawn","k":"o","y":4},{"p":"BIO","t":"Dawn","k":"o","y":4.5},{"p":"BIO","t":"Dawn","k":"o","y":5},{"p":"BIO","t":"Dawn","k":"o","y":5.5},{"p":"BIO","t":"Dawn","k":"o","y":6},{"p":"BIO","t":"Dawn","k":"o","y":6.5},{"p":"BIO","t":"Dawn","k":"o","y":7},{"p":"BIO","t":"Dawn","k":"o","y":7.5},{"p":"BIO","t":"Dawn","k":"o","y":8},{"p":"BIO","t":"Dawn","k":"o","y":8.5},
{"p":"BIO","t":"Day","k":"o","y":75},{"p":"BIO","t":"Day","k":"o","y":76},{"p":"BIO","t":"Day","k":"o","y":77.8},{"p":"BIO","t":"Day","k":"o","y":78.5},{"p":"BIO","t":"Day","k":"o","y":79.3},{"p":"BIO","t":"Day","k":"o","y":1.6},{"p":"BIO","t":"Day","k":"o","y":2},{"p":"BIO","t":"Day","k":"o","y":2.4},{"p":"BIO","t":"Day","k":"o","y":2.8},{"p":"BIO","t":"Day","k":"o","y":3.2},{"p":"BIO","t":"Day","k":"o","y":3.6},{"p":"BIO","t":"Day","k":"o","y":4},{"p":"BIO","t":"Day","k":"o","y":4.4},{"p":"BIO","t":"Day","k":"o","y":4.8},
{"p":"BIO","t":"Dusk","k":"o","y":77.5},{"p":"BIO","t":"Dusk","k":"o","y":78.5},{"p":"BIO","t":"Dusk","k":"o","y":79.5},{"p":"BIO","t":"Dusk","k":"o","y":80.2},{"p":"BIO","t":"Dusk","k":"o","y":1.6},{"p":"BIO","t":"Dusk","k":"o","y":2},{"p":"BIO","t":"Dusk","k":"o","y":2.5},{"p":"BIO","t":"Dusk","k":"o","y":3},{"p":"BIO","t":"Dusk","k":"o","y":3.5},{"p":"BIO","t":"Dusk","k":"o","y":4},{"p":"BIO","t":"Dusk","k":"o","y":4.5},{"p":"BIO","t":"Dusk","k":"o","y":5},{"p":"BIO","t":"Dusk","k":"o","y":5.5},{"p":"BIO","t":"Dusk","k":"o","y":6},
{"p":"BIO","t":"Night","k":"o","y":2.5},{"p":"BIO","t":"Night","k":"o","y":3},{"p":"BIO","t":"Night","k":"o","y":3.5},{"p":"BIO","t":"Night","k":"o","y":4},{"p":"BIO","t":"Night","k":"o","y":4.5},{"p":"BIO","t":"Night","k":"o","y":5},{"p":"BIO","t":"Night","k":"o","y":5.5},{"p":"BIO","t":"Night","k":"o","y":6},{"p":"BIO","t":"Night","k":"o","y":6.5},{"p":"BIO","t":"Night","k":"o","y":7},{"p":"BIO","t":"Night","k":"o","y":7.5},{"p":"BIO","t":"Night","k":"o","y":8},{"p":"BIO","t":"Night","k":"o","y":8.5},{"p":"BIO","t":"Night","k":"o","y":9},{"p":"BIO","t":"Night","k":"o","y":9.5},{"p":"BIO","t":"Night","k":"o","y":10},

{"p":"H","t":"Dawn","k":"v","y":0.249,"d":3},{"p":"H","t":"Dawn","k":"v","y":0.2625,"d":7.9},{"p":"H","t":"Dawn","k":"v","y":0.306,"d":9.6},{"p":"H","t":"Dawn","k":"v","y":0.35,"d":8.6},{"p":"H","t":"Dawn","k":"v","y":0.437,"d":8.6},{"p":"H","t":"Dawn","k":"v","y":0.524,"d":11},{"p":"H","t":"Dawn","k":"v","y":0.567,"d":14.8},{"p":"H","t":"Dawn","k":"v","y":0.611,"d":21.7},{"p":"H","t":"Dawn","k":"v","y":0.646,"d":32.7},{"p":"H","t":"Dawn","k":"v","y":0.698,"d":37.9},{"p":"H","t":"Dawn","k":"v","y":0.741,"d":43},{"p":"H","t":"Dawn","k":"v","y":0.802,"d":57.5},{"p":"H","t":"Dawn","k":"v","y":0.855,"d":74},{"p":"H","t":"Dawn","k":"v","y":0.889,"d":81},{"p":"H","t":"Dawn","k":"v","y":0.9155,"d":78.5},{"p":"H","t":"Dawn","k":"v","y":0.959,"d":61},{"p":"H","t":"Dawn","k":"v","y":0.978,"d":46.5},
{"p":"H","t":"Day","k":"v","y":0.25,"d":4},{"p":"H","t":"Day","k":"v","y":0.254,"d":8.6},{"p":"H","t":"Day","k":"v","y":0.271,"d":21.4},{"p":"H","t":"Day","k":"v","y":0.306,"d":23},{"p":"H","t":"Day","k":"v","y":0.35,"d":19},{"p":"H","t":"Day","k":"v","y":0.393,"d":12},{"p":"H","t":"Day","k":"v","y":0.48,"d":10.3},{"p":"H","t":"Day","k":"v","y":0.567,"d":13.8},{"p":"H","t":"Day","k":"v","y":0.628,"d":23},{"p":"H","t":"Day","k":"v","y":0.672,"d":41.3},{"p":"H","t":"Day","k":"v","y":0.715,"d":68.2},{"p":"H","t":"Day","k":"v","y":0.75,"d":86},{"p":"H","t":"Day","k":"v","y":0.785,"d":91.3},{"p":"H","t":"Day","k":"v","y":0.8285,"d":81.6},{"p":"H","t":"Day","k":"v","y":0.872,"d":62},{"p":"H","t":"Day","k":"v","y":0.9155,"d":34.4},{"p":"H","t":"Day","k":"v","y":0.959,"d":11},{"p":"H","t":"Day","k":"v","y":0.985,"d":2},
{"p":"H","t":"Dusk","k":"v","y":0.254,"d":10},{"p":"H","t":"Dusk","k":"v","y":0.271,"d":17.2},{"p":"H","t":"Dusk","k":"v","y":0.306,"d":20},{"p":"H","t":"Dusk","k":"v","y":0.35,"d":16.2},{"p":"H","t":"Dusk","k":"v","y":0.393,"d":13},{"p":"H","t":"Dusk","k":"v","y":0.437,"d":13.1},{"p":"H","t":"Dusk","k":"v","y":0.524,"d":14.5},{"p":"H","t":"Dusk","k":"v","y":0.611,"d":20.7},{"p":"H","t":"Dusk","k":"v","y":0.654,"d":27.6},{"p":"H","t":"Dusk","k":"v","y":0.698,"d":41.3},{"p":"H","t":"Dusk","k":"v","y":0.741,"d":55},{"p":"H","t":"Dusk","k":"v","y":0.785,"d":58.5},{"p":"H","t":"Dusk","k":"v","y":0.8285,"d":65.4},{"p":"H","t":"Dusk","k":"v","y":0.872,"d":79.2},{"p":"H","t":"Dusk","k":"v","y":0.907,"d":88.9},{"p":"H","t":"Dusk","k":"v","y":0.933,"d":87},{"p":"H","t":"Dusk","k":"v","y":0.97,"d":81},
{"p":"H","t":"Night","k":"v","y":0.2625,"d":7.6},{"p":"H","t":"Night","k":"v","y":0.35,"d":11.4},{"p":"H","t":"Night","k":"v","y":0.437,"d":13},{"p":"H","t":"Night","k":"v","y":0.524,"d":18.3},{"p":"H","t":"Night","k":"v","y":0.593,"d":25.8},{"p":"H","t":"Night","k":"v","y":0.646,"d":36},{"p":"H","t":"Night","k":"v","y":0.698,"d":43},{"p":"H","t":"Night","k":"v","y":0.741,"d":52.7},{"p":"H","t":"Night","k":"v","y":0.785,"d":65.4},{"p":"H","t":"Night","k":"v","y":0.8285,"d":82},{"p":"H","t":"Night","k":"v","y":0.872,"d":97},{"p":"H","t":"Night","k":"v","y":0.898,"d":101.6},{"p":"H","t":"Night","k":"v","y":0.924,"d":91.3},{"p":"H","t":"Night","k":"v","y":0.959,"d":62},{"p":"H","t":"Night","k":"v","y":0.979,"d":29.3},
{"p":"H","t":"Dawn","k":"b","q1":0.652,"med":0.798,"q3":0.894,"lo":0.289,"hi":0.978,"lab":"a"},
{"p":"H","t":"Day","k":"b","q1":0.6195,"med":0.753,"q3":0.8215,"lo":0.316,"hi":0.985,"lab":"b"},
{"p":"H","t":"Dusk","k":"b","q1":0.708,"med":0.8155,"q3":0.904,"lo":0.414,"hi":0.97,"lab":"c"},
{"p":"H","t":"Night","k":"b","q1":0.705,"med":0.825,"q3":0.894,"lo":0.43,"hi":0.979,"lab":"c"},
{"p":"H","t":"Dawn","k":"o","y":0.25},{"p":"H","t":"Dawn","k":"o","y":0.255},{"p":"H","t":"Dawn","k":"o","y":0.26},{"p":"H","t":"Dawn","k":"o","y":0.265},{"p":"H","t":"Dawn","k":"o","y":0.27},{"p":"H","t":"Dawn","k":"o","y":0.275},{"p":"H","t":"Dawn","k":"o","y":0.28},{"p":"H","t":"Dawn","k":"o","y":0.285},
{"p":"H","t":"Day","k":"o","y":0.25},{"p":"H","t":"Day","k":"o","y":0.255},{"p":"H","t":"Day","k":"o","y":0.26},{"p":"H","t":"Day","k":"o","y":0.265},{"p":"H","t":"Day","k":"o","y":0.27},{"p":"H","t":"Day","k":"o","y":0.275},{"p":"H","t":"Day","k":"o","y":0.28},{"p":"H","t":"Day","k":"o","y":0.285},{"p":"H","t":"Day","k":"o","y":0.29},{"p":"H","t":"Day","k":"o","y":0.295},{"p":"H","t":"Day","k":"o","y":0.3},{"p":"H","t":"Day","k":"o","y":0.305},{"p":"H","t":"Day","k":"o","y":0.31},{"p":"H","t":"Day","k":"o","y":0.315},{"p":"H","t":"Day","k":"o","y":0.32},
{"p":"H","t":"Dusk","k":"o","y":0.26},{"p":"H","t":"Dusk","k":"o","y":0.265},{"p":"H","t":"Dusk","k":"o","y":0.27},{"p":"H","t":"Dusk","k":"o","y":0.275},{"p":"H","t":"Dusk","k":"o","y":0.28},{"p":"H","t":"Dusk","k":"o","y":0.285},{"p":"H","t":"Dusk","k":"o","y":0.29},{"p":"H","t":"Dusk","k":"o","y":0.295},{"p":"H","t":"Dusk","k":"o","y":0.3},{"p":"H","t":"Dusk","k":"o","y":0.305},{"p":"H","t":"Dusk","k":"o","y":0.31},{"p":"H","t":"Dusk","k":"o","y":0.315},{"p":"H","t":"Dusk","k":"o","y":0.32},{"p":"H","t":"Dusk","k":"o","y":0.325},{"p":"H","t":"Dusk","k":"o","y":0.33},{"p":"H","t":"Dusk","k":"o","y":0.335},{"p":"H","t":"Dusk","k":"o","y":0.34},{"p":"H","t":"Dusk","k":"o","y":0.345},{"p":"H","t":"Dusk","k":"o","y":0.35},{"p":"H","t":"Dusk","k":"o","y":0.355},{"p":"H","t":"Dusk","k":"o","y":0.36},{"p":"H","t":"Dusk","k":"o","y":0.365},{"p":"H","t":"Dusk","k":"o","y":0.37},{"p":"H","t":"Dusk","k":"o","y":0.375},{"p":"H","t":"Dusk","k":"o","y":0.38},{"p":"H","t":"Dusk","k":"o","y":0.385},{"p":"H","t":"Dusk","k":"o","y":0.39},{"p":"H","t":"Dusk","k":"o","y":0.395},{"p":"H","t":"Dusk","k":"o","y":0.4},{"p":"H","t":"Dusk","k":"o","y":0.405},{"p":"H","t":"Dusk","k":"o","y":0.41},
{"p":"H","t":"Night","k":"o","y":0.27},{"p":"H","t":"Night","k":"o","y":0.275},{"p":"H","t":"Night","k":"o","y":0.28},{"p":"H","t":"Night","k":"o","y":0.285},{"p":"H","t":"Night","k":"o","y":0.29},{"p":"H","t":"Night","k":"o","y":0.295},{"p":"H","t":"Night","k":"o","y":0.3},{"p":"H","t":"Night","k":"o","y":0.305},{"p":"H","t":"Night","k":"o","y":0.31},{"p":"H","t":"Night","k":"o","y":0.315},{"p":"H","t":"Night","k":"o","y":0.32},{"p":"H","t":"Night","k":"o","y":0.325},{"p":"H","t":"Night","k":"o","y":0.33},{"p":"H","t":"Night","k":"o","y":0.335},{"p":"H","t":"Night","k":"o","y":0.34},{"p":"H","t":"Night","k":"o","y":0.345},{"p":"H","t":"Night","k":"o","y":0.35},{"p":"H","t":"Night","k":"o","y":0.355},{"p":"H","t":"Night","k":"o","y":0.36},{"p":"H","t":"Night","k":"o","y":0.365},{"p":"H","t":"Night","k":"o","y":0.37},{"p":"H","t":"Night","k":"o","y":0.375},{"p":"H","t":"Night","k":"o","y":0.38},{"p":"H","t":"Night","k":"o","y":0.385},{"p":"H","t":"Night","k":"o","y":0.39},{"p":"H","t":"Night","k":"o","y":0.395},{"p":"H","t":"Night","k":"o","y":0.4},{"p":"H","t":"Night","k":"o","y":0.405},{"p":"H","t":"Night","k":"o","y":0.41},{"p":"H","t":"Night","k":"o","y":0.415},{"p":"H","t":"Night","k":"o","y":0.42},{"p":"H","t":"Night","k":"o","y":0.425},{"p":"H","t":"Night","k":"o","y":0.43},

{"p":"NDSI","t":"Dawn","k":"v","y":-0.978,"d":10.2},{"p":"NDSI","t":"Dawn","k":"v","y":-0.869,"d":17.7},{"p":"NDSI","t":"Dawn","k":"v","y":-0.759,"d":26.2},{"p":"NDSI","t":"Dawn","k":"v","y":-0.672,"d":31.3},{"p":"NDSI","t":"Dawn","k":"v","y":-0.606,"d":31.3},{"p":"NDSI","t":"Dawn","k":"v","y":-0.496,"d":28.2},{"p":"NDSI","t":"Dawn","k":"v","y":-0.387,"d":23},{"p":"NDSI","t":"Dawn","k":"v","y":-0.277,"d":17.7},{"p":"NDSI","t":"Dawn","k":"v","y":-0.168,"d":14.6},{"p":"NDSI","t":"Dawn","k":"v","y":-0.058,"d":17},{"p":"NDSI","t":"Dawn","k":"v","y":0.161,"d":21.4},{"p":"NDSI","t":"Dawn","k":"v","y":0.38,"d":28.2},{"p":"NDSI","t":"Dawn","k":"v","y":0.49,"d":35.7},{"p":"NDSI","t":"Dawn","k":"v","y":0.599,"d":45.9},{"p":"NDSI","t":"Dawn","k":"v","y":0.709,"d":60.2},{"p":"NDSI","t":"Dawn","k":"v","y":0.818,"d":71.4},{"p":"NDSI","t":"Dawn","k":"v","y":0.928,"d":71.4},{"p":"NDSI","t":"Dawn","k":"v","y":1.0,"d":66.3},
{"p":"NDSI","t":"Day","k":"v","y":-0.989,"d":13.6},{"p":"NDSI","t":"Day","k":"v","y":-0.934,"d":19.7},{"p":"NDSI","t":"Day","k":"v","y":-0.869,"d":34.7},{"p":"NDSI","t":"Day","k":"v","y":-0.781,"d":48.3},{"p":"NDSI","t":"Day","k":"v","y":-0.693,"d":52.7},{"p":"NDSI","t":"Day","k":"v","y":-0.606,"d":48.3},{"p":"NDSI","t":"Day","k":"v","y":-0.496,"d":36.4},{"p":"NDSI","t":"Day","k":"v","y":-0.387,"d":26.5},{"p":"NDSI","t":"Day","k":"v","y":-0.277,"d":19.7},{"p":"NDSI","t":"Day","k":"v","y":-0.058,"d":18},{"p":"NDSI","t":"Day","k":"v","y":0.161,"d":19.7},{"p":"NDSI","t":"Day","k":"v","y":0.38,"d":27.2},{"p":"NDSI","t":"Day","k":"v","y":0.599,"d":40.8},{"p":"NDSI","t":"Day","k":"v","y":0.709,"d":48.3},{"p":"NDSI","t":"Day","k":"v","y":0.818,"d":52},{"p":"NDSI","t":"Day","k":"v","y":0.928,"d":50},{"p":"NDSI","t":"Day","k":"v","y":1.0,"d":42.5},
{"p":"NDSI","t":"Dusk","k":"v","y":-0.978,"d":6},{"p":"NDSI","t":"Dusk","k":"v","y":-0.934,"d":9.2},{"p":"NDSI","t":"Dusk","k":"v","y":-0.825,"d":16},{"p":"NDSI","t":"Dusk","k":"v","y":-0.672,"d":21},{"p":"NDSI","t":"Dusk","k":"v","y":-0.606,"d":21},{"p":"NDSI","t":"Dusk","k":"v","y":-0.496,"d":18},{"p":"NDSI","t":"Dusk","k":"v","y":-0.277,"d":14.3},{"p":"NDSI","t":"Dusk","k":"v","y":-0.058,"d":18},{"p":"NDSI","t":"Dusk","k":"v","y":0.161,"d":22.8},{"p":"NDSI","t":"Dusk","k":"v","y":0.38,"d":32.3},{"p":"NDSI","t":"Dusk","k":"v","y":0.49,"d":42.5},{"p":"NDSI","t":"Dusk","k":"v","y":0.599,"d":52.7},{"p":"NDSI","t":"Dusk","k":"v","y":0.709,"d":66.3},{"p":"NDSI","t":"Dusk","k":"v","y":0.818,"d":74.8},{"p":"NDSI","t":"Dusk","k":"v","y":0.928,"d":68},{"p":"NDSI","t":"Dusk","k":"v","y":1.0,"d":51},
{"p":"NDSI","t":"Night","k":"v","y":-0.967,"d":4.8},{"p":"NDSI","t":"Night","k":"v","y":-0.934,"d":8.8},{"p":"NDSI","t":"Night","k":"v","y":-0.825,"d":15.6},{"p":"NDSI","t":"Night","k":"v","y":-0.715,"d":20.4},{"p":"NDSI","t":"Night","k":"v","y":-0.606,"d":22.4},{"p":"NDSI","t":"Night","k":"v","y":-0.496,"d":17},{"p":"NDSI","t":"Night","k":"v","y":-0.277,"d":14.6},{"p":"NDSI","t":"Night","k":"v","y":-0.058,"d":16.3},{"p":"NDSI","t":"Night","k":"v","y":0.161,"d":18.4},{"p":"NDSI","t":"Night","k":"v","y":0.38,"d":24.5},{"p":"NDSI","t":"Night","k":"v","y":0.599,"d":37.4},{"p":"NDSI","t":"Night","k":"v","y":0.709,"d":51},{"p":"NDSI","t":"Night","k":"v","y":0.818,"d":78.2},{"p":"NDSI","t":"Night","k":"v","y":0.884,"d":95},{"p":"NDSI","t":"Night","k":"v","y":0.95,"d":101},{"p":"NDSI","t":"Night","k":"v","y":1.0,"d":96.9},
{"p":"NDSI","t":"Dawn","k":"b","q1":-0.091,"med":0.511,"q3":0.801,"lo":-0.978,"hi":1.0,"lab":"a"},
{"p":"NDSI","t":"Day","k":"b","q1":-0.547,"med":0.255,"q3":0.695,"lo":-0.989,"hi":1.0,"lab":"b"},
{"p":"NDSI","t":"Dusk","k":"b","q1":0.04,"med":0.54,"q3":0.818,"lo":-0.978,"hi":1.0,"lab":"c"},
{"p":"NDSI","t":"Night","k":"b","q1":0.023,"med":0.654,"q3":0.923,"lo":-0.967,"hi":1.0,"lab":"d"}
]},
"columns":2,
"spacing":{"row":2,"column":5.7},
"concat":[
{"data":{"name":"d"},"transform":[{"filter":"datum.p==='ACI'"}],
"facet":{"column":{"field":"t","type":"nominal","title":null,"header":{"labels":false,"title":null}}},
"spacing":0,"bounds":"flush",
"spec":{"width":111.4,"height":371,"resolve":{"scale":{"x":"independent"}},"layer":[
{"transform":[{"filter":"datum.k==='v'"}],"mark":{"type":"area","orient":"horizontal","stroke":"#333333","strokeWidth":1,"interpolate":"catmull-rom"},
"encoding":{"y":{"field":"y","type":"quantitative","scale":{"domain":[729.9,2848.4],"nice":false,"zero":false},"axis":{"title":"ACI","values":[1000,1500,2000,2500],"format":"d","offset":10.7,"minExtent":37,"maxExtent":37,"titlePadding":2}},
"x":{"field":"d","type":"quantitative","scale":{"domain":[0,111.4],"range":[55.7,0]},"axis":null},"x2":{"datum":0},
"fill":{"field":"t","type":"nominal","scale":{"domain":["Dawn","Day","Dusk","Night"],"range":["#F8766D","#7CAE00","#00BFC4","#C77CFF"]},"legend":null}}},
{"transform":[{"filter":"datum.k==='v'"}],"mark":{"type":"area","orient":"horizontal","stroke":"#333333","strokeWidth":1,"interpolate":"catmull-rom"},
"encoding":{"y":{"field":"y","type":"quantitative"},
"x":{"field":"d","type":"quantitative","scale":{"domain":[0,111.4],"range":[55.7,111.4]},"axis":null},"x2":{"datum":0},
"fill":{"field":"t","type":"nominal","legend":null}}},
{"transform":[{"filter":"datum.k==='b'"}],"mark":{"type":"rule","color":"#333333","strokeWidth":1},"encoding":{"x":{"datum":0,"scale":{"domain":[-55.7,55.7]},"axis":null},"y":{"field":"lo","type":"quantitative"},"y2":{"field":"hi"}}},
{"transform":[{"filter":"datum.k==='b'"}],"mark":{"type":"rect","stroke":"#333333","strokeWidth":1},"encoding":{"x":{"datum":-5.7,"scale":{"domain":[-55.7,55.7]},"axis":null},"x2":{"datum":5.7},"y":{"field":"q1","type":"quantitative"},"y2":{"field":"q3"},"fill":{"field":"t","type":"nominal","legend":null}}},
{"transform":[{"filter":"datum.k==='b'"}],"mark":{"type":"rule","color":"#333333","strokeWidth":2},"encoding":{"x":{"datum":-5.7,"scale":{"domain":[-55.7,55.7]},"axis":null},"x2":{"datum":5.7},"y":{"field":"med","type":"quantitative"}}},
{"transform":[{"filter":"datum.k==='o'"}],"mark":{"type":"circle","color":"#333333","size":36,"opacity":1},"encoding":{"x":{"datum":0,"scale":{"domain":[-55.7,55.7]},"axis":null},"y":{"field":"y","type":"quantitative"}}},
{"transform":[{"filter":"datum.k==='b'"}],"mark":{"type":"text","fontSize":15,"color":"#1a1a1a","baseline":"middle"},"encoding":{"x":{"datum":0,"scale":{"domain":[-55.7,55.7]},"axis":null},"y":{"datum":2734},"text":{"field":"lab"}}}
]}},
{"data":{"name":"d"},"transform":[{"filter":"datum.p==='ADI'"}],
"facet":{"column":{"field":"t","type":"nominal","title":null,"header":{"labels":false,"title":null}}},
"spacing":0,"bounds":"flush",
"spec":{"width":114.7,"height":381,"resolve":{"scale":{"x":"independent"}},"layer":[
{"transform":[{"filter":"datum.k==='v'"}],"mark":{"type":"area","orient":"horizontal","stroke":"#333333","strokeWidth":1,"interpolate":"catmull-rom"},
"encoding":{"y":{"field":"y","type":"quantitative","scale":{"domain":[-0.1637,3.5716],"nice":false,"zero":false},"axis":{"title":"ADI","values":[0,1,2,3],"format":"d","offset":11.7,"minExtent":24,"maxExtent":24,"titlePadding":6}},
"x":{"field":"d","type":"quantitative","scale":{"domain":[0,114.7],"range":[57.35,0]},"axis":null},"x2":{"datum":0},
"fill":{"field":"t","type":"nominal","scale":{"domain":["Dawn","Day","Dusk","Night"],"range":["#F8766D","#7CAE00","#00BFC4","#C77CFF"]},"legend":null}}},
{"transform":[{"filter":"datum.k==='v'"}],"mark":{"type":"area","orient":"horizontal","stroke":"#333333","strokeWidth":1,"interpolate":"catmull-rom"},
"encoding":{"y":{"field":"y","type":"quantitative"},
"x":{"field":"d","type":"quantitative","scale":{"domain":[0,114.7],"range":[57.35,114.7]},"axis":null},"x2":{"datum":0},
"fill":{"field":"t","type":"nominal","legend":null}}},
{"transform":[{"filter":"datum.k==='b'"}],"mark":{"type":"rule","color":"#333333","strokeWidth":1},"encoding":{"x":{"datum":0,"scale":{"domain":[-57.35,57.35]},"axis":null},"y":{"field":"lo","type":"quantitative"},"y2":{"field":"hi"}}},
{"transform":[{"filter":"datum.k==='b'"}],"mark":{"type":"rect","stroke":"#333333","strokeWidth":1},"encoding":{"x":{"datum":-5.8,"scale":{"domain":[-57.35,57.35]},"axis":null},"x2":{"datum":5.8},"y":{"field":"q1","type":"quantitative"},"y2":{"field":"q3"},"fill":{"field":"t","type":"nominal","legend":null}}},
{"transform":[{"filter":"datum.k==='b'"}],"mark":{"type":"rule","color":"#333333","strokeWidth":2},"encoding":{"x":{"datum":-5.8,"scale":{"domain":[-57.35,57.35]},"axis":null},"x2":{"datum":5.8},"y":{"field":"med","type":"quantitative"}}},
{"transform":[{"filter":"datum.k==='b'"}],"mark":{"type":"text","fontSize":15,"color":"#1a1a1a","baseline":"middle"},"encoding":{"x":{"datum":0,"scale":{"domain":[-57.35,57.35]},"axis":null},"y":{"datum":3.375},"text":{"field":"lab"}}}
]}},
{"data":{"name":"d"},"transform":[{"filter":"datum.p==='AEI'"}],
"facet":{"column":{"field":"t","type":"nominal","title":null,"header":{"labels":false,"title":null}}},
"spacing":0,"bounds":"flush",
"spec":{"width":112.5,"height":368,"resolve":{"scale":{"x":"independent"}},"layer":[
{"transform":[{"filter":"datum.k==='v'"}],"mark":{"type":"area","orient":"horizontal","stroke":"#333333","strokeWidth":1,"interpolate":"catmull-rom"},
"encoding":{"y":{"field":"y","type":"quantitative","scale":{"domain":[-0.016,1.0944],"nice":false,"zero":false},"axis":{"title":"AEI","values":[0,0.25,0.5,0.75,1],"format":".2f","offset":10.7,"minExtent":37,"maxExtent":37,"titlePadding":2}},
"x":{"field":"d","type":"quantitative","scale":{"domain":[0,112.5],"range":[56.25,0]},"axis":null},"x2":{"datum":0},
"fill":{"field":"t","type":"nominal","scale":{"domain":["Dawn","Day","Dusk","Night"],"range":["#F8766D","#7CAE00","#00BFC4","#C77CFF"]},"legend":null}}},
{"transform":[{"filter":"datum.k==='v'"}],"mark":{"type":"area","orient":"horizontal","stroke":"#333333","strokeWidth":1,"interpolate":"catmull-rom"},
"encoding":{"y":{"field":"y","type":"quantitative"},
"x":{"field":"d","type":"quantitative","scale":{"domain":[0,112.5],"range":[56.25,112.5]},"axis":null},"x2":{"datum":0},
"fill":{"field":"t","type":"nominal","legend":null}}},
{"transform":[{"filter":"datum.k==='b'"}],"mark":{"type":"rule","color":"#333333","strokeWidth":1},"encoding":{"x":{"datum":0,"scale":{"domain":[-56.25,56.25]},"axis":null},"y":{"field":"lo","type":"quantitative"},"y2":{"field":"hi"}}},
{"transform":[{"filter":"datum.k==='b'"}],"mark":{"type":"rect","stroke":"#333333","strokeWidth":1},"encoding":{"x":{"datum":-5.7,"scale":{"domain":[-56.25,56.25]},"axis":null},"x2":{"datum":5.7},"y":{"field":"q1","type":"quantitative"},"y2":{"field":"q3"},"fill":{"field":"t","type":"nominal","legend":null}}},
{"transform":[{"filter":"datum.k==='b'"}],"mark":{"type":"rule","color":"#333333","strokeWidth":2},"encoding":{"x":{"datum":-5.7,"scale":{"domain":[-56.25,56.25]},"axis":null},"x2":{"datum":5.7},"y":{"field":"med","type":"quantitative"}}},
{"transform":[{"filter":"datum.k==='o'"}],"mark":{"type":"circle","color":"#333333","size":45,"opacity":1},"encoding":{"x":{"datum":0,"scale":{"domain":[-56.25,56.25]},"axis":null},"y":{"field":"y","type":"quantitative"}}},
{"transform":[{"filter":"datum.k==='b'"}],"mark":{"type":"text","fontSize":15,"color":"#1a1a1a","baseline":"middle"},"encoding":{"x":{"datum":0,"scale":{"domain":[-56.25,56.25]},"axis":null},"y":{"datum":1.043},"text":{"field":"lab"}}}
]}},
{"data":{"name":"d"},"transform":[{"filter":"datum.p==='BIO'"}],
"facet":{"column":{"field":"t","type":"nominal","title":null,"header":{"labels":false,"title":null}}},
"spacing":0,"bounds":"flush",
"spec":{"width":114.4,"height":380,"resolve":{"scale":{"x":"independent"}},"layer":[
{"transform":[{"filter":"datum.k==='v'"}],"mark":{"type":"area","orient":"horizontal","stroke":"#333333","strokeWidth":1,"interpolate":"catmull-rom"},
"encoding":{"y":{"field":"y","type":"quantitative","scale":{"domain":[-1.166,93.11],"nice":false,"zero":false},"axis":{"title":"BIO","values":[0,25,50,75],"format":"d","offset":12.1,"minExtent":24,"maxExtent":24,"titlePadding":6}},
"x":{"field":"d","type":"quantitative","scale":{"domain":[0,114.4],"range":[57.2,0]},"axis":null},"x2":{"datum":0},
"fill":{"field":"t","type":"nominal","scale":{"domain":["Dawn","Day","Dusk","Night"],"range":["#F8766D","#7CAE00","#00BFC4","#C77CFF"]},"legend":null}}},
{"transform":[{"filter":"datum.k==='v'"}],"mark":{"type":"area","orient":"horizontal","stroke":"#333333","strokeWidth":1,"interpolate":"catmull-rom"},
"encoding":{"y":{"field":"y","type":"quantitative"},
"x":{"field":"d","type":"quantitative","scale":{"domain":[0,114.4],"range":[57.2,114.4]},"axis":null},"x2":{"datum":0},
"fill":{"field":"t","type":"nominal","legend":null}}},
{"transform":[{"filter":"datum.k==='b'"}],"mark":{"type":"rule","color":"#333333","strokeWidth":1},"encoding":{"x":{"datum":0,"scale":{"domain":[-57.2,57.2]},"axis":null},"y":{"field":"lo","type":"quantitative"},"y2":{"field":"hi"}}},
{"transform":[{"filter":"datum.k==='b'"}],"mark":{"type":"rect","stroke":"#333333","strokeWidth":1},"encoding":{"x":{"datum":-5.7,"scale":{"domain":[-57.2,57.2]},"axis":null},"x2":{"datum":5.7},"y":{"field":"q1","type":"quantitative"},"y2":{"field":"q3"},"fill":{"field":"t","type":"nominal","legend":null}}},
{"transform":[{"filter":"datum.k==='b'"}],"mark":{"type":"rule","color":"#333333","strokeWidth":2},"encoding":{"x":{"datum":-5.7,"scale":{"domain":[-57.2,57.2]},"axis":null},"x2":{"datum":5.7},"y":{"field":"med","type":"quantitative"}}},
{"transform":[{"filter":"datum.k==='o'"}],"mark":{"type":"circle","color":"#333333","size":45,"opacity":1},"encoding":{"x":{"datum":0,"scale":{"domain":[-57.2,57.2]},"axis":null},"y":{"field":"y","type":"quantitative"}}},
{"transform":[{"filter":"datum.k==='b'"}],"mark":{"type":"text","fontSize":15,"color":"#1a1a1a","baseline":"middle"},"encoding":{"x":{"datum":0,"scale":{"domain":[-57.2,57.2]},"axis":null},"y":{"datum":87.46},"text":{"field":"lab"}}}
]}},
{"data":{"name":"d"},"transform":[{"filter":"datum.p==='H'"}],
"facet":{"column":{"field":"t","type":"nominal","title":"Time","header":{"labelOrient":"bottom","titleOrient":"bottom","labelPadding":3,"titlePadding":-2}}},
"spacing":0,"bounds":"flush",
"spec":{"width":114.3,"height":350,"resolve":{"scale":{"x":"independent"}},"layer":[
{"transform":[{"filter":"datum.k==='v'"}],"mark":{"type":"area","orient":"horizontal","stroke":"#333333","strokeWidth":1,"interpolate":"catmull-rom"},
"encoding":{"y":{"field":"y","type":"quantitative","scale":{"domain":[0.2111,1.1254],"nice":false,"zero":false},"axis":{"title":"H","values":[0.4,0.6,0.8,1.0],"format":".1f","offset":10.7,"minExtent":37,"maxExtent":37,"titlePadding":2}},
"x":{"field":"d","type":"quantitative","scale":{"domain":[0,114.3],"range":[57.15,0]},"axis":null},"x2":{"datum":0},
"fill":{"field":"t","type":"nominal","scale":{"domain":["Dawn","Day","Dusk","Night"],"range":["#F8766D","#7CAE00","#00BFC4","#C77CFF"]},"legend":null}}},
{"transform":[{"filter":"datum.k==='v'"}],"mark":{"type":"area","orient":"horizontal","stroke":"#333333","strokeWidth":1,"interpolate":"catmull-rom"},
"encoding":{"y":{"field":"y","type":"quantitative"},
"x":{"field":"d","type":"quantitative","scale":{"domain":[0,114.3],"range":[57.15,114.3]},"axis":null},"x2":{"datum":0},
"fill":{"field":"t","type":"nominal","legend":null}}},
{"transform":[{"filter":"datum.k==='b' && datum.t==='Dawn'"}],"mark":{"type":"rule","color":"#333333","strokeWidth":1.2},"encoding":{"x":{"datum":-67.85,"scale":{"domain":[-57.15,57.15]},"axis":null},"x2":{"datum":394.4},"y":{"datum":0.2111}}},
{"transform":[{"filter":"datum.k==='b'"}],"mark":{"type":"rule","color":"#333333","strokeWidth":1.1},"encoding":{"x":{"datum":0,"scale":{"domain":[-57.15,57.15]},"axis":null},"y":{"datum":0.2111},"y2":{"datum":0.2006}}},
{"transform":[{"filter":"datum.k==='b'"}],"mark":{"type":"rule","color":"#333333","strokeWidth":1},"encoding":{"x":{"datum":0,"scale":{"domain":[-57.15,57.15]},"axis":null},"y":{"field":"lo","type":"quantitative"},"y2":{"field":"hi"}}},
{"transform":[{"filter":"datum.k==='b'"}],"mark":{"type":"rect","stroke":"#333333","strokeWidth":1},"encoding":{"x":{"datum":-5.7,"scale":{"domain":[-57.15,57.15]},"axis":null},"x2":{"datum":5.7},"y":{"field":"q1","type":"quantitative"},"y2":{"field":"q3"},"fill":{"field":"t","type":"nominal","legend":null}}},
{"transform":[{"filter":"datum.k==='b'"}],"mark":{"type":"rule","color":"#333333","strokeWidth":2},"encoding":{"x":{"datum":-5.7,"scale":{"domain":[-57.15,57.15]},"axis":null},"x2":{"datum":5.7},"y":{"field":"med","type":"quantitative"}}},
{"transform":[{"filter":"datum.k==='o'"}],"mark":{"type":"circle","color":"#333333","size":60,"opacity":1},"encoding":{"x":{"datum":0,"scale":{"domain":[-57.15,57.15]},"axis":null},"y":{"field":"y","type":"quantitative"}}},
{"transform":[{"filter":"datum.k==='b'"}],"mark":{"type":"text","fontSize":15,"color":"#1a1a1a","baseline":"middle"},"encoding":{"x":{"datum":0,"scale":{"domain":[-57.15,57.15]},"axis":null},"y":{"datum":1.079},"text":{"field":"lab"}}}
]}},
{"data":{"name":"d"},"transform":[{"filter":"datum.p==='NDSI'"}],
"facet":{"column":{"field":"t","type":"nominal","title":"Time","header":{"labelOrient":"bottom","titleOrient":"bottom","labelPadding":3,"titlePadding":-2}}},
"spacing":0,"bounds":"flush",
"spec":{"width":113.2,"height":354,"resolve":{"scale":{"x":"independent"}},"layer":[
{"transform":[{"filter":"datum.k==='v'"}],"mark":{"type":"area","orient":"horizontal","stroke":"#333333","strokeWidth":1,"interpolate":"catmull-rom"},
"encoding":{"y":{"field":"y","type":"quantitative","scale":{"domain":[-1.09,1.2366],"nice":false,"zero":false},"axis":{"title":"NDSI","values":[-1,-0.5,0,0.5,1],"format":".1f","labelExpr":"replace(datum.label,'\u2212','-')","offset":13.3,"minExtent":24,"maxExtent":24,"titlePadding":6}},
"x":{"field":"d","type":"quantitative","scale":{"domain":[0,113.2],"range":[56.6,0]},"axis":null},"x2":{"datum":0},
"fill":{"field":"t","type":"nominal","scale":{"domain":["Dawn","Day","Dusk","Night"],"range":["#F8766D","#7CAE00","#00BFC4","#C77CFF"]},"legend":null}}},
{"transform":[{"filter":"datum.k==='v'"}],"mark":{"type":"area","orient":"horizontal","stroke":"#333333","strokeWidth":1,"interpolate":"catmull-rom"},
"encoding":{"y":{"field":"y","type":"quantitative"},
"x":{"field":"d","type":"quantitative","scale":{"domain":[0,113.2],"range":[56.6,113.2]},"axis":null},"x2":{"datum":0},
"fill":{"field":"t","type":"nominal","legend":null}}},
{"transform":[{"filter":"datum.k==='b' && datum.t==='Dawn'"}],"mark":{"type":"rule","color":"#333333","strokeWidth":1.2},"encoding":{"x":{"datum":-69.9,"scale":{"domain":[-56.6,56.6]},"axis":null},"x2":{"datum":399.5},"y":{"datum":-1.09}}},
{"transform":[{"filter":"datum.k==='b'"}],"mark":{"type":"rule","color":"#333333","strokeWidth":1.1},"encoding":{"x":{"datum":0,"scale":{"domain":[-56.6,56.6]},"axis":null},"y":{"datum":-1.09},"y2":{"datum":-1.1163}}},
{"transform":[{"filter":"datum.k==='b'"}],"mark":{"type":"rule","color":"#333333","strokeWidth":1},"encoding":{"x":{"datum":0,"scale":{"domain":[-56.6,56.6]},"axis":null},"y":{"field":"lo","type":"quantitative"},"y2":{"field":"hi"}}},
{"transform":[{"filter":"datum.k==='b'"}],"mark":{"type":"rect","stroke":"#333333","strokeWidth":1},"encoding":{"x":{"datum":-5.7,"scale":{"domain":[-56.6,56.6]},"axis":null},"x2":{"datum":5.7},"y":{"field":"q1","type":"quantitative"},"y2":{"field":"q3"},"fill":{"field":"t","type":"nominal","legend":null}}},
{"transform":[{"filter":"datum.k==='b'"}],"mark":{"type":"rule","color":"#333333","strokeWidth":2},"encoding":{"x":{"datum":-5.7,"scale":{"domain":[-56.6,56.6]},"axis":null},"x2":{"datum":5.7},"y":{"field":"med","type":"quantitative"}}},
{"transform":[{"filter":"datum.k==='b'"}],"mark":{"type":"text","fontSize":15,"color":"#1a1a1a","baseline":"middle"},"encoding":{"x":{"datum":0,"scale":{"domain":[-56.6,56.6]},"axis":null},"y":{"datum":1.092},"text":{"field":"lab"}}}
]}}
],
"config":{
"font":"Liberation Sans",
"view":{"stroke":null},
"axis":{"grid":false,"domainColor":"#333333","tickColor":"#333333","domainWidth":1.1,"tickWidth":1.1,"tickSize":5,"labelColor":"#4d4d4d","labelFontSize":13,"labelPadding":3,"titleFontSize":15,"titleFontWeight":"normal","titleColor":"#1a1a1a","titlePadding":6,"labelFont":"Liberation Sans","titleFont":"Liberation Sans"},
"header":{"labelFontSize":13,"labelColor":"#4d4d4d","titleFontSize":16,"titleFontWeight":"normal","titleColor":"#1a1a1a","labelFont":"Liberation Sans","titleFont":"Liberation Sans"},
"text":{"font":"Liberation Sans"}
}
}
